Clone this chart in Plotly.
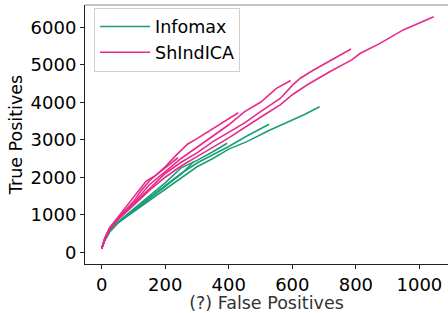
import plotly.graph_objects as go

# ---- data ----
infomax_x = [
    [0, 10, 25, 50, 100, 150, 200, 250, 300, 350, 400, 457, 530, 600, 640, 686],
    [0, 10, 25, 50, 100, 150, 200, 250, 300, 350, 400, 457, 500, 527],
    [0, 10, 25, 50, 100, 150, 200, 250, 300, 350, 395],
    [0, 10, 25, 50, 100, 150, 200, 250, 290],
]
infomax_y = [
    [100, 330, 550, 780, 1080, 1380, 1700, 2000, 2280, 2500, 2750, 2950, 3260, 3528, 3680, 3880],
    [100, 340, 570, 800, 1120, 1450, 1780, 2100, 2380, 2600, 2820, 3100, 3280, 3413],
    [100, 330, 560, 800, 1150, 1500, 1850, 2250, 2450, 2680, 2906],
    [100, 320, 540, 770, 1100, 1420, 1760, 2080, 2420],
]
shindica_x = [
    [0, 10, 25, 50, 100, 150, 200, 250, 300, 400, 500, 562, 600, 646, 719, 787, 813, 876, 949, 1045],
    [0, 10, 25, 50, 100, 150, 200, 250, 300, 350, 400, 450, 500, 562, 600, 625, 667, 730, 785],
    [0, 10, 25, 50, 100, 150, 200, 250, 300, 350, 400, 450, 500, 550, 595],
    [0, 10, 25, 50, 100, 125, 150, 200, 230, 270, 300, 350, 400, 430],
    [0, 10, 25, 50, 100, 140, 170, 200, 240],
]
shindica_y = [
    [100, 340, 600, 860, 1250, 1650, 2000, 2300, 2550, 3050, 3600, 3930, 4200, 4460, 4820, 5130, 5300, 5570, 5930, 6280],
    [100, 360, 620, 870, 1280, 1700, 2100, 2400, 2650, 2950, 3200, 3450, 3750, 4100, 4450, 4640, 4860, 5170, 5420],
    [100, 370, 640, 880, 1300, 1800, 2150, 2500, 2800, 3100, 3400, 3750, 4000, 4370, 4580],
    [100, 380, 650, 900, 1350, 1650, 1900, 2280, 2550, 2880, 3030, 3300, 3550, 3720],
    [100, 370, 650, 920, 1450, 1900, 2050, 2250, 2520],
]
series = [
    ("Infomax", "#1b9e77", infomax_x, infomax_y),
    ("ShIndICA", "#e7298a", shindica_x, shindica_y),
]
x_ticks = [0, 200, 400, 600, 800, 1000]
y_ticks = [0, 1000, 2000, 3000, 4000, 5000, 6000]

FONT = "DejaVu Sans"
fig = go.Figure()
for name, color, xs, ys in series:
    for i, (xv, yv) in enumerate(zip(xs, ys)):
        fig.add_trace(go.Scatter(
            x=xv, y=yv, mode="lines", name=name, legendgroup=name,
            showlegend=(i == 0), line=dict(color=color, width=1.6),
        ))

fig.update_layout(
    width=448, height=313,
    margin=dict(l=85, r=0, t=5, b=49),
    paper_bgcolor="white", plot_bgcolor="white",
    font=dict(family=FONT, size=17, color="black"),
    showlegend=True,
    legend=dict(
        x=0.025, y=0.99, xanchor="left", yanchor="top",
        bgcolor="white", bordercolor="#d0d0d0", borderwidth=1,
        font=dict(family=FONT, size=17.5, color="black"),
        tracegroupgap=0, itemwidth=50,
    ),
    xaxis=dict(
        range=[-52.5, 1090], tickvals=x_ticks, ticks="outside", ticklen=4,
        tickcolor="#222", showline=True, linecolor="#222", linewidth=1,
        showgrid=False, zeroline=False,
        tickfont=dict(family=FONT, size=18, color="black"),
        title=dict(text="(?) False Positives", standoff=2,
                   font=dict(family=FONT, size=17.5, color="#333")),
    ),
    yaxis=dict(
        range=[-314, 6594], tickvals=y_ticks, ticks="outside", ticklen=4,
        tickcolor="#222", showline=True, linecolor="#222", linewidth=1,
        showgrid=False, zeroline=False,
        tickfont=dict(family=FONT, size=18, color="black"),
        title=dict(text="True Positives", standoff=3,
                   font=dict(family=FONT, size=17.5, color="black")),
    ),
    shapes=[dict(type="line", xref="paper", yref="paper", x0=0, x1=1, y0=1, y1=1,
                 line=dict(color="#888", width=1))],
)
fig.write_html("out.html", config={"displayModeBar": False},
               post_script="document.body.style.margin='0px';")
